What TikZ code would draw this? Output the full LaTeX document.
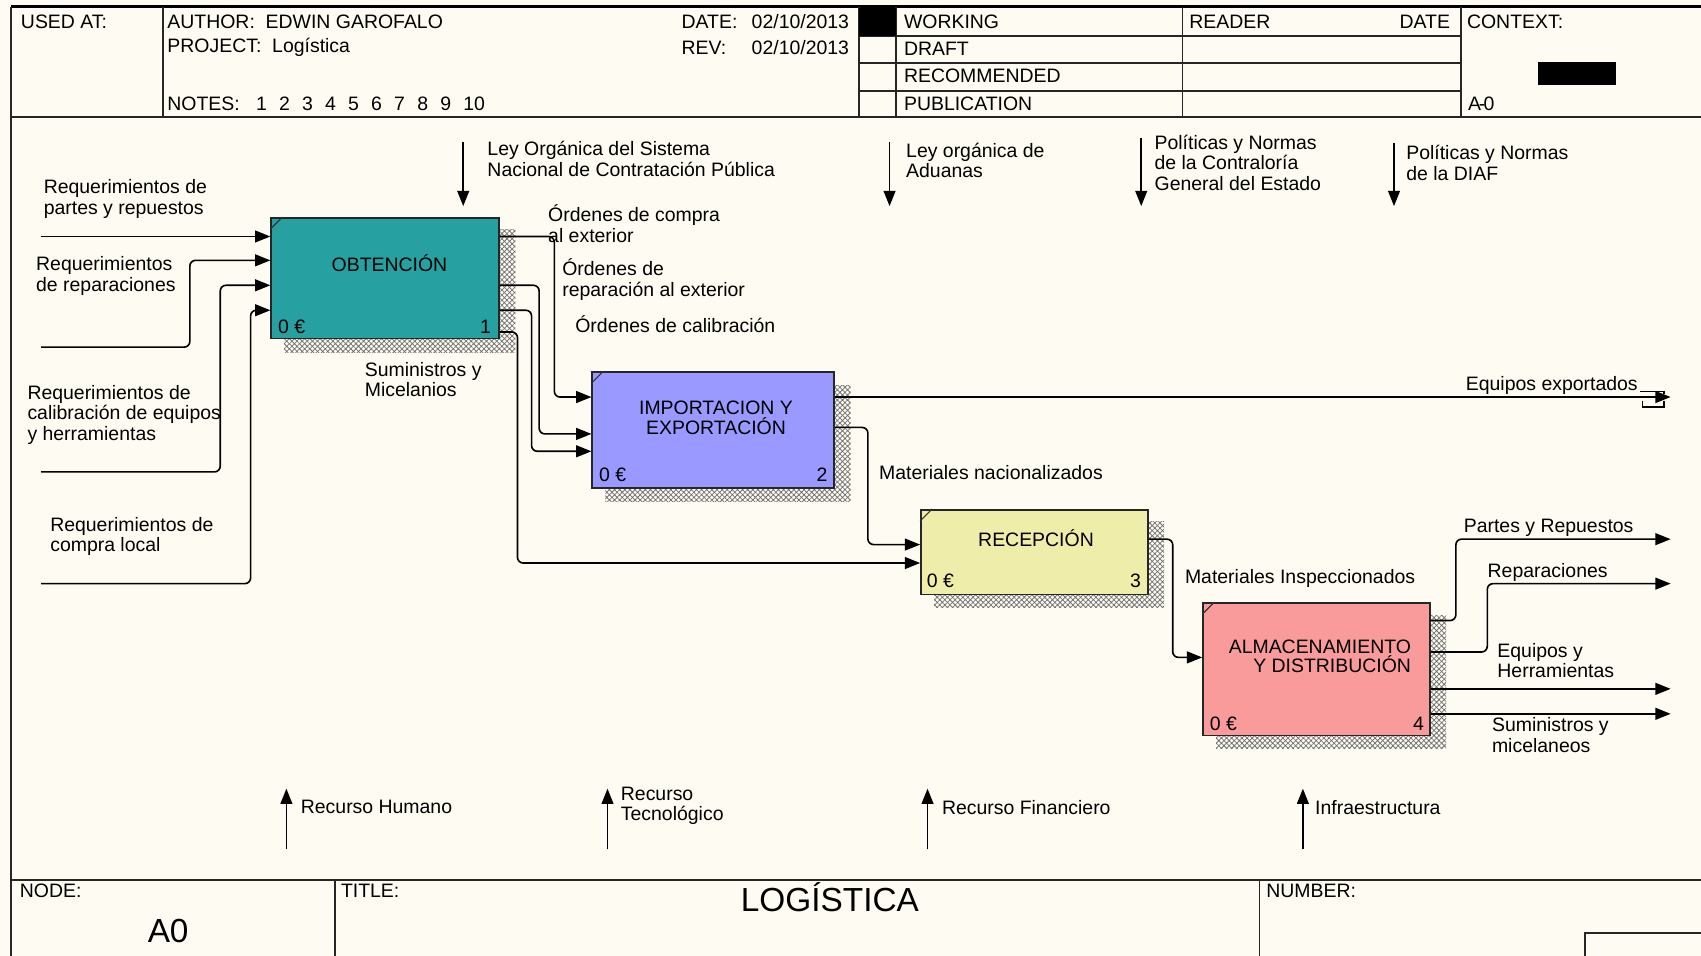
\documentclass[tikz,border=0pt]{standalone}
\usepackage{fontspec}
\setmainfont{Liberation Sans}
\usetikzlibrary{arrows.meta,fit,patterns.meta}

\definecolor{paper}{RGB}{253,251,242}
\definecolor{boxteal}{RGB}{38,160,160}
\definecolor{boxblue}{RGB}{153,153,255}
\definecolor{boxyellow}{RGB}{238,238,170}
\definecolor{boxpink}{RGB}{250,155,155}

\begin{document}
\begin{tikzpicture}[x=0.02cm,y=-0.02cm,
  lbl/.style={inner sep=0pt, font=\fontsize{10.2}{10.8}\selectfont, align=left, anchor=west},
  boxtext/.style={inner sep=0pt, font=\fontsize{10.2}{10.4}\selectfont, align=center},
  bigtext/.style={inner sep=0pt, font=\fontsize{17.5}{19}\selectfont},
  gridline/.style={line width=0.9pt, black!85},
  actbox/.style={draw=black!85, line width=0.9pt, inner sep=0pt},
  shadowhatch/.style={pattern={Hatch[angle=45,distance=1.9pt,line width=0.4pt]}, pattern color=black!55},
  idefarrow/.style={line width=0.85pt, rounded corners=3pt, -{Triangle[length=8pt,width=6.2pt]}},
  corner/.style={line width=0.6pt, black!80},
]
% sheet
\useasboundingbox (0,0) rectangle (1568,881);
\fill[paper] (0,0) rectangle (1568,881);

% ---------- header form ----------
\draw[line width=1.3pt] (10,6) -- (1568,6);
\draw[gridline] (10,6) -- (10,881);
\draw[gridline] (10,108) -- (1568,108);
\foreach \xx in {150,792,826,1090,1347}
  \draw[gridline] (\xx,6) -- (\xx,108);
\foreach \yy in {33,58,84}
  \draw[gridline] (792,\yy) -- (1347,\yy);
\fill (792,7) rectangle (826,33);
\fill (1418,57) rectangle (1490,78);

\node[lbl] (usedat) at (19,20) {USED AT:};
\node[lbl] (author) at (154,20) {AUTHOR:\ \ EDWIN GAROFALO};
\node[lbl] (project) at (154,44) {PROJECT:\ \ Logística};
\node[lbl] (notes) at (154,96) {NOTES:\hspace{8.6pt}1\hspace{6.4pt}2\hspace{6.4pt}3\hspace{6.4pt}4\hspace{6.4pt}5\hspace{6.4pt}6\hspace{6.4pt}7\hspace{6.4pt}8\hspace{6.4pt}9\hspace{6.4pt}10};
\node[lbl] (datek) at (628,20) {DATE:};
\node[lbl, anchor=east] (datev) at (783,20) {02/10/2013};
\node[lbl] (revk) at (628,44) {REV:};
\node[lbl, anchor=east] (revv) at (783,44) {02/10/2013};
\node[lbl] (working) at (833,20) {WORKING};
\node[lbl] (draft) at (833,45) {DRAFT};
\node[lbl] (recomm) at (833,70) {RECOMMENDED};
\node[lbl] (public) at (833,96) {PUBLICATION};
\node[lbl] (reader) at (1096,20) {READER};
\node[lbl, anchor=east] (rdate) at (1337,20) {DATE};
\node[lbl] (context) at (1352,20) {CONTEXT:};
\node[lbl] (ctxnode) at (1353,96) {A\kern-0.12em-\kern-0.08em0};

% ---------- footer form ----------
\draw[gridline] (10,811) -- (1568,811);
\draw[gridline] (309,811) -- (309,881);
\draw[gridline] (1161,811) -- (1161,881);
\draw[gridline] (1461,881) -- (1461,860) -- (1568,860);
\node[lbl] (nodek) at (18,821) {NODE:};
\node[bigtext] (nodev) at (155,858) {A0};
\node[lbl] (titlek) at (314,821) {TITLE:};
\node[bigtext] (titlev) at (765,827) {LOGÍSTICA};
\node[lbl] (numberk) at (1167,821) {NUMBER:};

% ---------- activity boxes with hatched shadows ----------
\path[shadowhatch] (262,212) rectangle (475,325);
\path[shadowhatch] (558,355) rectangle (784,462);
\path[shadowhatch] (861,481) rectangle (1073,560);
\path[shadowhatch] (1121,567) rectangle (1333,690);

\node[actbox, fill=boxteal,   fit={(250,201) (460,312)}] (b1) {};
\node[actbox, fill=boxblue,   fit={(546,343) (769,450)}] (b2) {};
\node[actbox, fill=boxyellow, fit={(849,470) (1058,548)}] (b3) {};
\node[actbox, fill=boxpink,   fit={(1109,556) (1318,678)}] (b4) {};

\foreach \b in {b1,b2,b3,b4}
  \draw[corner] (\b.north west) ++(0,11) -- ++(11,-11);

\node[boxtext] (b1t) at (359,243) {OBTENCIÓN};
\node[boxtext] (b2t) at (660,385) {IMPORTACION Y\\EXPORTACIÓN};
\node[boxtext] (b3t) at (955,496) {RECEPCIÓN};
\node[boxtext, anchor=east, align=right] (b4t) at (1301,605) {ALMACENAMIENTO\\Y DISTRIBUCIÓN};

\node[lbl] (b1c) at (256,301) {0 €};
\node[lbl, anchor=east] (b1n) at (453,301) {1};
\node[lbl] (b2c) at (552,438) {0 €};
\node[lbl, anchor=east] (b2n) at (763,438) {2};
\node[lbl] (b3c) at (854,535) {0 €};
\node[lbl, anchor=east] (b3n) at (1052,535) {3};
\node[lbl] (b4c) at (1115,667) {0 €};
\node[lbl, anchor=east] (b4n) at (1313,667) {4};

% ---------- inputs ----------
\coordinate (in1) at (38,218);
\coordinate (in2) at (38,320);
\coordinate (in3) at (38,435);
\coordinate (in4) at (38,538);
\draw[idefarrow] (in1) -- (b1.west |- in1);
\draw[idefarrow] (in2) -- (175,320) -- (175,240) -- (b1.west |- 0,240);
\draw[idefarrow] (in3) -- (203,435) -- (203,263) -- (b1.west |- 0,263);
\draw[idefarrow] (in4) -- (231,538) -- (231,286) -- (b1.west |- 0,286);

\node[lbl] (lin1) at (40,183.5) {Requerimientos de\\partes y repuestos};
\node[lbl] (lin2) at (33,254.5) {Requerimientos\\de reparaciones};
\node[lbl] (lin3) at (25,382.5) {Requerimientos de\\calibración de equipos\\y herramientas};
\node[lbl] (lin4) at (46,494.5) {Requerimientos de\\compra local};

% ---------- controls ----------
\coordinate (c1s) at (427,131); \coordinate (c1e) at (427,190);
\coordinate (c2s) at (820,131); \coordinate (c2e) at (820,190);
\coordinate (c3s) at (1052,127); \coordinate (c3e) at (1052,190);
\coordinate (c4s) at (1285,132); \coordinate (c4e) at (1285,190);
\foreach \c in {c1,c2,c3,c4}
  \draw[idefarrow] (\c s) -- (\c e);

\node[lbl] (lc1) at (449,146.5) {Ley Orgánica del Sistema\\Nacional de Contratación Pública};
\node[lbl] (lc2) at (835,148) {Ley orgánica de\\Aduanas};
\node[lbl] (lc3) at (1064,150) {Políticas y Normas\\de la Contraloría\\General del Estado};
\node[lbl] (lc4) at (1296,150) {Políticas y Normas\\de la DIAF};

% ---------- mechanisms ----------
\coordinate (m1s) at (264,783); \coordinate (m1e) at (264,727);
\coordinate (m2s) at (560,783); \coordinate (m2e) at (560,727);
\coordinate (m3s) at (855,783); \coordinate (m3e) at (855,727);
\coordinate (m4s) at (1201,783); \coordinate (m4e) at (1201,727);
\foreach \m in {m1,m2,m3,m4}
  \draw[idefarrow] (\m s) -- (\m e);

\node[lbl] (lm1) at (277,744) {Recurso Humano};
\node[lbl] (lm2) at (572,743) {Recurso\\Tecnológico};
\node[lbl] (lm3) at (868,744) {Recurso Financiero};
\node[lbl] (lm4) at (1212,744) {Infraestructura};

% ---------- flows between activities ----------
\draw[idefarrow] (b1.east |- 0,218) -- (511,218) -- (511,366) -- (b2.west |- 0,366);
\draw[idefarrow] (b1.east |- 0,263) -- (497,263) -- (497,400) -- (b2.west |- 0,400);
\draw[idefarrow] (b1.east |- 0,286) -- (490,286) -- (490,416) -- (b2.west |- 0,416);
\draw[idefarrow] (b1.east |- 0,306) -- (477,306) -- (477,519) -- (b3.west |- 0,519);
\draw[idefarrow] (b2.east |- 0,394) -- (800,394) -- (800,502) -- (b3.west |- 0,502);
\draw[idefarrow] (b3.east |- 0,497) -- (1081,497) -- (1081,606) -- (b4.west |- 0,606);

\node[lbl] (lo1) at (505,206) {Órdenes de compra\\al exterior};
\node[lbl] (lo2) at (518,258) {Órdenes de\\reparación al exterior};
\node[lbl] (lo3) at (530,299) {Órdenes de calibración};
\node[lbl] (lo4) at (336,350) {Suministros y\\Micelanios};
\node[lbl] (lo5) at (810,436) {Materiales nacionalizados};
\node[lbl] (lo6) at (1092,533) {Materiales Inspeccionados};

% ---------- outputs ----------
\coordinate (x1) at (1540,366);
\coordinate (x2) at (1540,497);
\coordinate (x3) at (1540,538);
\coordinate (x4) at (1540,635);
\coordinate (x5) at (1540,658);
\draw[idefarrow] (b2.east |- x1) -- (x1);
% tunnel bracket at the free end of the export arrow
\draw[line width=0.8pt] (1512,361) -- (1534,361) -- (1534,363);
\draw[line width=0.8pt] (1514,370) -- (1514,375) -- (1534,375) -- (1534,370);
\draw[idefarrow] (b4.east |- 0,572) -- (1342,572) -- (1342,497) -- (x2);
\draw[idefarrow] (b4.east |- 0,601) -- (1371,601) -- (1371,538) -- (x3);
\draw[idefarrow] (b4.east |- x4) -- (x4);
\draw[idefarrow] (b4.east |- x5) -- (x5);

\node[lbl, anchor=east] (lx1) at (1510,355) {Equipos exportados};
\node[lbl] (lx2) at (1349,487) {Partes y Repuestos};
\node[lbl] (lx3) at (1371,528) {Reparaciones};
\node[lbl] (lx4) at (1380,609) {Equipos y\\Herramientas};
\node[lbl] (lx5) at (1375,677.5) {Suministros y\\micelaneos};
\end{tikzpicture}
\end{document}
